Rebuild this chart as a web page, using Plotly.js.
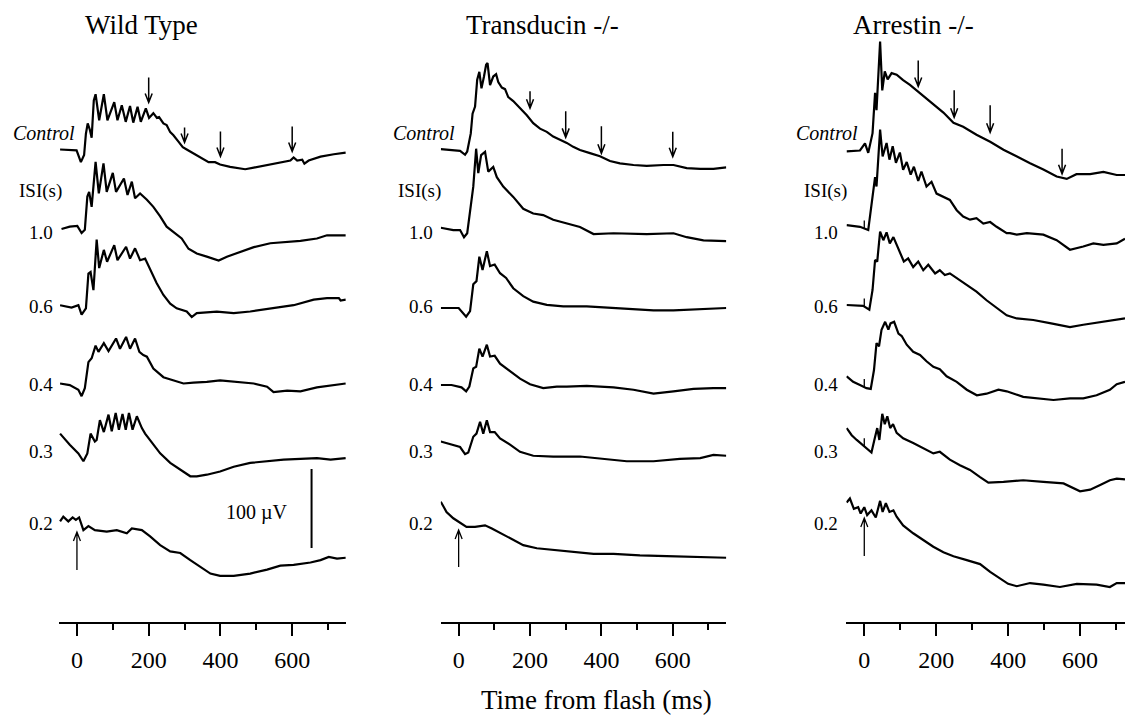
<!DOCTYPE html>
<html><head><meta charset="utf-8">
<script src="https://cdn.plot.ly/plotly-3.0.1.min.js"></script>
<style>html,body{margin:0;padding:0;background:#fff}#chart{width:1125px;height:716px}</style>
</head><body><div id="chart"></div>
<script>
// ===== DATA (time in ms, response in µV relative to each trace's pre-flash level) =====
const panelTitles = ['Wild Type', 'Transducin -/-', 'Arrestin -/-'];
const rowLabels = ['Control', '1.0', '0.6', '0.4', '0.3', '0.2'];
const isiHeader = 'ISI(s)';
const xTickVals = [0, 200, 400, 600];
const xAxisTitle = 'Time from flash (ms)';
const scaleBarUV = 100;
const scaleBarLabel = '100 \u00B5V';
const scaleBarT = 654;

// Wild Type
const wtControlT = [-47,-1,11,20,25,30,36,41,47,52,62,75,85,104,113,125,136,148,157,169,178,192,201,213,223,229,241,250,260,269,283,295,306,325,344,367,385,399,427,469,493,530,567,595,604,614,628,634,646,679,716,749];
const wtControlV = [0,-1,-16,-7,20,33,25,15,62,70,37,70,37,60,37,56,35,55,34,54,35,52,40,46,40,41,33,31,22,18,10,3,0,-5,-11,-16,-16,-19,-22,-25,-23,-20,-17,-14,-10,-14,-13,-18,-14,-9,-6,-4];
const wt10T = [-43,-20,1,13,22,29,34,41,52,61,74,83,100,109,131,141,153,162,176,195,213,232,250,269,292,311,334,362,395,418,455,493,539,586,623,669,697,749];
const wt10V = [0,3,4,-5,-1,41,47,28,85,45,83,47,71,47,64,43,60,39,45,37,28,16,3,-4,-12,-25,-31,-35,-40,-35,-29,-23,-18,-16,-15,-12,-8,-8];
const wt06T = [-47,-15,4,13,25,32,38,46,55,62,75,84,104,113,137,148,162,176,190,204,222,241,260,278,306,320,334,390,437,483,548,604,660,697,730,735,749];
const wt06V = [1,-2,1,-11,-3,41,43,20,84,48,71,56,77,58,75,60,73,58,60,46,29,14,3,-3,-7,-14,-9,-7,-9,-7,-3,1,8,10,10,7,8];
const wt04T = [-47,-20,4,13,22,32,41,52,60,75,88,109,120,137,148,162,174,185,195,213,241,269,297,325,362,399,455,493,530,548,586,623,669,716,749];
const wt04V = [0,-2,-8,-16,-6,27,32,48,40,51,41,57,44,59,44,57,40,36,34,19,8,4,0,1,2,4,2,0,-4,-11,-9,-10,-5,-2,0];
const wt03T = [-47,-20,4,18,29,38,50,55,64,75,88,97,108,117,127,136,145,155,167,181,190,213,232,260,288,316,334,362,399,437,483,530,576,623,669,707,749];
const wt03V = [22,8,-3,-13,-3,22,12,14,39,24,46,25,48,27,47,27,48,27,44,29,22,8,-3,-15,-24,-32,-32,-30,-26,-20,-15,-13,-11,-10,-9,-11,-9];
const wt02T = [-47,-38,-24,-12,-3,6,18,32,50,83,111,139,153,181,204,232,260,288,316,344,372,399,437,483,530,567,604,651,679,702,725,749];
const wt02V = [2,8,2,7,4,7,-9,-4,-9,-11,-9,-13,-7,-9,-17,-28,-36,-38,-47,-55,-64,-67,-67,-64,-59,-54,-53,-50,-47,-43,-45,-44];

// Transducin -/-
const trControlT = [-50,4,18,24,34,39,46,52,58,64,71,77,81,88,97,105,111,121,130,139,153,172,191,209,228,247,265,284,303,321,340,368,396,424,452,490,527,574,602,639,677,714,750];
const trControlV = [1,-1,-6,-2,21,46,55,89,99,78,93,108,110,82,93,96,86,79,77,67,62,53,44,34,27,23,17,13,9,4,0,-4,-8,-14,-17,-19,-20,-19,-19,-23,-24,-24,-22];
const tr10T = [-50,-15,4,15,24,34,41,49,55,63,74,83,97,107,125,153,181,209,237,265,303,340,378,434,527,602,639,686,750];
const tr10V = [1,-2,-2,-11,-6,27,53,101,70,93,97,72,78,65,53,40,25,19,17,11,6,2,-7,-6,-7,-6,-11,-15,-16];
const tr06T = [-50,0,21,32,41,50,58,67,79,88,101,116,133,153,181,209,247,293,359,434,490,546,602,658,714,750];
const tr06V = [0,0,-11,-4,30,34,65,48,72,53,55,44,38,25,15,8,4,2,2,0,-1,-3,-3,-2,-1,0];
const tr04T = [-50,-20,8,21,30,41,49,58,67,79,88,101,116,144,172,200,237,275,303,359,434,490,546,602,658,714,750];
const tr04V = [0,0,-3,-8,-2,21,23,46,36,51,36,37,27,17,8,1,-4,-2,-2,-1,-3,-6,-11,-8,-5,-4,-4];
const tr03T = [-50,-20,4,18,27,41,50,60,69,79,88,101,116,144,172,209,265,340,415,471,546,620,677,714,750];
const tr03V = [12,8,5,-4,-2,18,22,37,22,39,24,24,16,8,-1,-6,-7,-7,-10,-13,-13,-10,-9,-5,-6];
const tr02T = [-50,-34,-15,4,22,46,74,93,125,153,181,219,265,321,378,434,508,583,658,750];
const tr02V = [27,14,6,0,-5,-5,-3,-7,-15,-22,-28,-32,-34,-37,-39,-39,-41,-42,-43,-44];

// Arrestin -/-
const arControlT = [-49,-12,2,11,23,30,34,44,50,57,65,76,90,108,127,146,164,192,220,248,275,312,350,387,424,461,498,535,563,590,628,665,702,725];
const arControlV = [-1,0,9,-3,22,73,51,138,76,100,90,98,96,89,83,76,69,58,48,35,30,20,11,1,-8,-16,-24,-33,-36,-30,-30,-27,-31,-31];
const ar10T = [-49,-12,11,20,30,34,44,51,62,70,79,88,99,108,118,129,138,150,159,173,187,201,220,238,257,275,294,312,331,350,368,396,405,424,452,498,535,572,609,637,665,702,725];
const ar10V = [1,-1,-5,24,62,50,122,88,105,84,101,80,93,71,81,65,75,57,69,50,56,41,37,33,20,12,8,10,3,5,-1,-9,-9,-11,-9,-11,-18,-30,-26,-22,-24,-22,-16];
const ar06T = [-49,-3,14,23,30,36,44,53,62,71,81,90,110,122,136,150,164,178,197,210,224,238,257,285,312,340,368,396,424,470,516,572,609,656,702,725];
const ar06V = [0,-1,-6,19,57,55,93,82,92,78,86,76,55,59,48,55,44,51,40,44,38,40,34,25,17,6,-4,-13,-17,-19,-23,-28,-25,-22,-19,-17];
const ar04T = [-49,-31,-12,6,18,27,34,41,48,58,67,73,83,95,104,118,136,155,173,192,210,229,257,285,313,340,373,396,442,489,526,572,609,646,683,702,725];
const ar04V = [11,4,0,-4,-5,19,53,49,70,80,70,78,80,65,62,51,42,38,30,23,20,11,4,-6,-13,-11,-6,-8,-15,-17,-19,-17,-17,-13,-6,1,4];
const ar03T = [-49,-35,-21,0,20,28,36,42,50,57,64,72,80,90,108,136,164,192,210,238,266,294,322,345,387,442,498,554,600,628,656,683,702,725];
const ar03V = [29,20,14,6,-2,14,29,14,47,34,44,29,34,23,16,10,3,-3,-1,-11,-18,-24,-33,-40,-39,-37,-39,-41,-51,-49,-43,-37,-35,-36];
const ar02T = [-49,-40,-29,-17,-10,0,8,20,32,44,51,60,70,81,90,108,136,164,192,220,248,285,322,350,377,400,424,461,498,544,591,646,683,702,725];
const ar02V = [26,31,18,20,12,20,10,16,7,28,14,25,14,16,8,-3,-13,-22,-30,-37,-42,-47,-52,-62,-70,-77,-80,-76,-78,-81,-77,-78,-81,-76,-76];

// Arrow markers: times (ms) and tip level (µV relative to the Control trace's baseline)
const wtArrowT = [200, 300, 400, 600];
const wtArrowV = [59.5, 8.9, -8.9, -2.5];
const trArrowT = [200, 300, 400, 600];
const trArrowV = [52.8, 16, -4.2, -8.5];
const arArrowT = [150, 250, 350, 550];
const arArrowV = [81, 42, 23, -29.5];
// Flash arrows on the 0.2 s traces (time, tip level relative to that trace's baseline)
const flashArrowT = [0, 0, 0];
const flashArrowV = [-11.4, -8.9, 6.3];

// ===== LAYOUT CONSTANTS =====
const W = 1125, H = 716;
const PX_BOTTOM = 622;          // pixel row of the time axis
const PX_PER_UV = 0.79;         // vertical scale
const FONT = 'Liberation Serif, Times New Roman, serif';
const panelDomainPx = [[59, 346], [440.8, 726.3], [846.3, 1125]];
const panelRange = [[-50, 750], [-50, 750], [-50, 725]];
const rowBasePx = [
  [149.5, 229, 306, 383.5, 451, 523],
  [150, 228.5, 308, 385, 451, 523],
  [150.5, 226, 305, 385, 451, 523]
];
const arrowLenPx = [[25, 15, 25, 25], [17, 26, 27, 25], [26, 27, 27, 25]];
const flashLenPx = [38, 37, 38];
const labelRightPx = [[75, 62, 53], [455, 441, 433], [858, 847, 838]]; // Control, ISI, numbers
const labelYPx = [132.5, 232.5, 306, 385, 451, 523];
const isiYPx = 191.5;
const titleXPx = [141, 542, 913];

const panelData = [
  [[wtControlT, wtControlV], [wt10T, wt10V], [wt06T, wt06V], [wt04T, wt04V], [wt03T, wt03V], [wt02T, wt02V]],
  [[trControlT, trControlV], [tr10T, tr10V], [tr06T, tr06V], [tr04T, tr04V], [tr03T, tr03V], [tr02T, tr02V]],
  [[arControlT, arControlV], [ar10T, ar10V], [ar06T, ar06V], [ar04T, ar04V], [ar03T, ar03V], [ar02T, ar02V]]
];
const panelArrows = [[wtArrowT, wtArrowV], [trArrowT, trArrowV], [arArrowT, arArrowV]];

const uvAt = px => (PX_BOTTOM - px) / PX_PER_UV;
const paperX = px => px / W;
const paperY = px => (PX_BOTTOM - px) / PX_BOTTOM;
function interp(T, V, t) {
  for (let i = 1; i < T.length; i++) {
    if (T[i] >= t) { const f = (t - T[i-1]) / (T[i] - T[i-1]); return V[i-1] + f * (V[i] - V[i-1]); }
  }
  return V[V.length - 1];
}

const traces = [];
const shapes = [];
const annotations = [];
const layout = {
  width: W, height: H,
  margin: {l: 0, r: 0, t: 0, b: H - PX_BOTTOM, pad: 0},
  paper_bgcolor: '#fff', plot_bgcolor: '#fff',
  showlegend: false,
  font: {family: FONT, color: '#000'}
};

panelData.forEach((rows, p) => {
  const xa = p === 0 ? 'x' : 'x' + (p + 1);
  const ya = p === 0 ? 'y' : 'y' + (p + 1);
  const xKey = p === 0 ? 'xaxis' : 'xaxis' + (p + 1);
  const yKey = p === 0 ? 'yaxis' : 'yaxis' + (p + 1);
  layout[xKey] = {
    domain: [paperX(panelDomainPx[p][0]), paperX(panelDomainPx[p][1])],
    range: panelRange[p], anchor: ya,
    showline: true, linecolor: '#000', linewidth: 2,
    ticks: 'outside', ticklen: 12, tickwidth: 2, tickcolor: '#000',
    tickvals: xTickVals, ticktext: xTickVals.map(String),
    ticklabelstandoff: 3,
    minor: {tickvals: [100, 300, 500, 700], ticks: 'outside', ticklen: 6, tickwidth: 2, tickcolor: '#000', showgrid: false},
    showgrid: false, zeroline: false,
    tickfont: {family: FONT, size: 24, color: '#000'},
    fixedrange: true
  };
  layout[yKey] = {
    domain: [0, 1], range: [0, uvAt(0)], anchor: xa, visible: false,
    showgrid: false, zeroline: false, fixedrange: true
  };
  rows.forEach(([T, V], r) => {
    const off = uvAt(rowBasePx[p][r]);
    traces.push({
      type: 'scatter', mode: 'lines', x: T, y: V.map(v => v + off),
      xaxis: xa, yaxis: ya, hoverinfo: 'skip',
      line: {color: '#000', width: 2.2}
    });
  });
  // arrows on the control trace
  const [aT, aV] = panelArrows[p];
  aT.forEach((t, i) => {
    const L = arrowLenPx[p][i];
    shapes.push({
      type: 'path', xref: xa, yref: ya, xsizemode: 'pixel', ysizemode: 'pixel',
      xanchor: t, yanchor: aV[i] + uvAt(rowBasePx[p][0]),
      path: `M0,${L} L0,0 M-3.5,9 L0,0 L3.5,9`,
      line: {color: '#000', width: 1.5}
    });
  });
  // flash arrow under the 0.2 s trace
  const fL = flashLenPx[p];
  shapes.push({
    type: 'path', xref: xa, yref: ya, xsizemode: 'pixel', ysizemode: 'pixel',
    xanchor: flashArrowT[p], yanchor: flashArrowV[p] + uvAt(rowBasePx[p][5]),
    path: `M0,-${fL} L0,0 M-3.5,-9 L0,0 L3.5,-9`,
    line: {color: '#000', width: 1.3}
  });
  // titles
  annotations.push({
    text: panelTitles[p], xref: 'paper', yref: 'paper', x: paperX(titleXPx[p]), y: paperY(25),
    xanchor: 'center', yanchor: 'middle', showarrow: false, font: {family: FONT, size: 27, color: '#000'}
  });
  // row labels
  rowLabels.forEach((lab, r) => {
    const isCtrl = r === 0;
    annotations.push({
      text: isCtrl ? '<i>' + lab + '</i>' : lab,
      xref: 'paper', yref: 'paper',
      x: paperX(labelRightPx[p][isCtrl ? 0 : 2] + 2), y: paperY(labelYPx[r]),
      xanchor: 'right', yanchor: 'middle', showarrow: false,
      font: {family: FONT, size: isCtrl ? 20 : 19, color: '#000'}
    });
  });
  annotations.push({
    text: isiHeader, xref: 'paper', yref: 'paper',
    x: paperX(labelRightPx[p][1] + 2), y: paperY(isiYPx),
    xanchor: 'right', yanchor: 'middle', showarrow: false,
    font: {family: FONT, size: 19, color: '#000'}
  });
});

// flash markers at t = 0 on the Arrestin traces 1.0 - 0.3
[1, 2, 3, 4].forEach(r => {
  const [T, V] = panelData[2][r];
  shapes.push({
    type: 'line', xref: 'x3', yref: 'y3', xsizemode: 'pixel', ysizemode: 'pixel',
    xanchor: 0, yanchor: interp(T, V, 0) + uvAt(rowBasePx[2][r]),
    x0: 0, x1: 0, y0: 0, y1: 8, line: {color: '#000', width: 1.3}
  });
});

// scale bar in Wild Type panel
const sbBottom = uvAt(548);
shapes.push({
  type: 'line', xref: 'x', yref: 'y', x0: scaleBarT, x1: scaleBarT,
  y0: sbBottom, y1: sbBottom + scaleBarUV, line: {color: '#000', width: 2}
});
annotations.push({
  text: scaleBarLabel, xref: 'paper', yref: 'paper', x: paperX(257), y: paperY(512),
  xanchor: 'center', yanchor: 'middle', showarrow: false, font: {family: FONT, size: 20, color: '#000'}
});
// x-axis title
annotations.push({
  text: xAxisTitle, xref: 'paper', yref: 'paper', x: paperX(596), y: paperY(700),
  xanchor: 'center', yanchor: 'middle', showarrow: false, font: {family: FONT, size: 27, color: '#000'}
});

layout.shapes = shapes;
layout.annotations = annotations;

Plotly.newPlot('chart', traces, layout, {staticPlot: true, displayModeBar: false});
</script>
</body></html>
